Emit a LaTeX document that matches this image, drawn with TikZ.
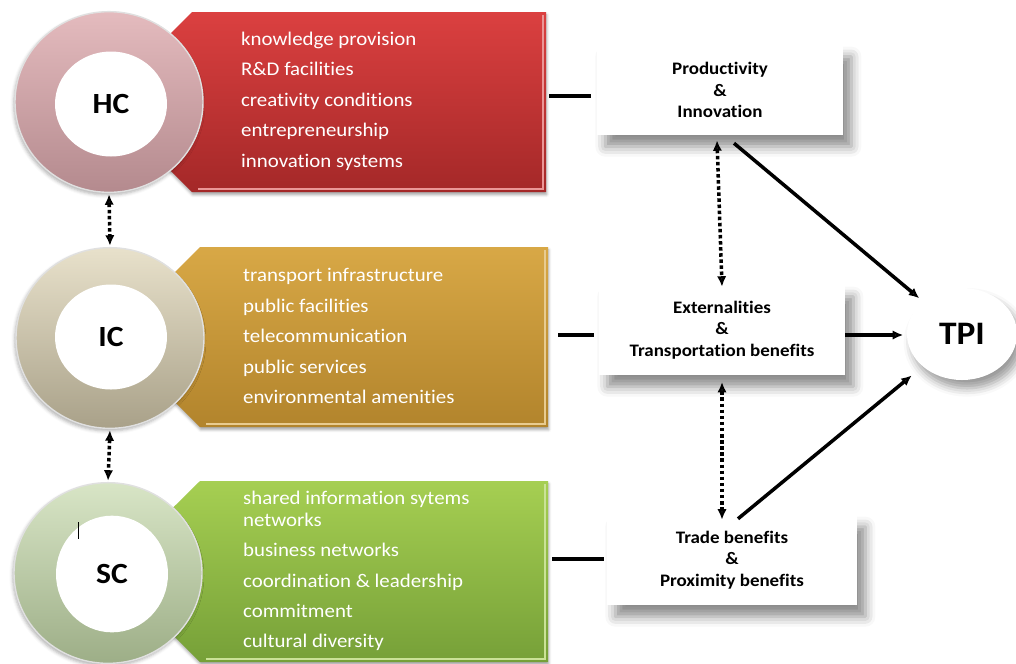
\documentclass[tikz,border=0pt]{standalone}
\usepackage{fontspec}
\setmainfont{Carlito}[FakeStretch=1.08,Ligatures=NoCommon]
\usetikzlibrary{shapes.geometric,arrows.meta,shadows.blur}

\definecolor{hcringA}{HTML}{E4BBBE}
\definecolor{hcringB}{HTML}{B48A8E}
\definecolor{icringA}{HTML}{E8E1CB}
\definecolor{icringB}{HTML}{A9A189}
\definecolor{scringA}{HTML}{D8E5C6}
\definecolor{scringB}{HTML}{9DAE87}
\definecolor{hcboxA}{HTML}{DB4040}
\definecolor{hcboxB}{HTML}{A42828}
\definecolor{icboxA}{HTML}{D8A846}
\definecolor{icboxB}{HTML}{B2842C}
\definecolor{scboxA}{HTML}{A6CF52}
\definecolor{scboxB}{HTML}{76A038}

\begin{document}
\begin{tikzpicture}[x=0.03cm,y=-0.03cm,
  >={Latex[length=9pt,width=8pt]},
  ring/.style={ellipse,minimum width=5.64cm,minimum height=5.42cm,inner sep=0pt,
    draw=white!88!black,line width=1.2pt,
    blur shadow={shadow xshift=-0.04cm,shadow yshift=-0.08cm,shadow blur radius=0.1cm,shadow opacity=30}},
  hole/.style={ellipse,fill=white,minimum width=3.36cm,minimum height=3.15cm,inner sep=0pt,
    font=\fontsize{25}{28}\selectfont\bfseries},
  items/.style={anchor=west,align=left,text=white,font=\fontsize{16.5}{26}\selectfont},
  listbox/.style={blur shadow={shadow xshift=0.02cm,shadow yshift=-0.08cm,shadow blur radius=0.08cm,shadow opacity=35}},
  bevel/.style={line width=1.6pt},
  effect/.style={fill=white,minimum width=7.38cm,minimum height=2.7cm,inner sep=0pt,align=center,
    font=\fontsize{15}{18.5}\selectfont\bfseries,
    blur shadow={shadow xshift=0.25cm,shadow yshift=-0.35cm,shadow blur radius=0.3cm,shadow opacity=45}},
  link/.style={line width=3pt},
  dotlink/.style={<->,line width=3pt,dash pattern=on 3pt off 2.2pt}]

\useasboundingbox (0,0) rectangle (1016,663);

% coloured boxes
\shade[listbox,top color=hcboxA,bottom color=hcboxB] (192,12) -- (546,12) -- (546,192) -- (192,192) -- (102,102) -- cycle;
\draw[bevel,hcboxA!55!white] (198,189) -- (543,189) -- (543,15);
\shade[listbox,top color=icboxA,bottom color=icboxB] (200,247) -- (548,247) -- (548,427) -- (200,427) -- (110,337) -- cycle;
\draw[bevel,icboxA!60!white] (206,424) -- (545,424) -- (545,250);
\shade[listbox,top color=scboxA,bottom color=scboxB] (200,481) -- (548,481) -- (548,662) -- (200,662) -- (109,571) -- cycle;
\draw[bevel,scboxA!60!white] (206,659) -- (545,659) -- (545,484);

% rings
\node[ring,top color=hcringA,bottom color=hcringB] (hcring) at (109,102) {};
\node[hole] (hc) at (111,104) {HC};
\node[ring,top color=icringA,bottom color=icringB] (icring) at (110,338) {};
\node[hole] (ic) at (111,337) {IC};
\node[ring,top color=scringA,bottom color=scringB] (scring) at (108,573) {};
\node[hole,minimum height=3.5cm] (sc) at (112,574) {SC};
\draw[line width=0.8pt] (78,522) -- (78,539);

\draw[dotlink,shorten <=1pt,shorten >=1pt] (hcring.south) -- (icring.north);
\draw[dotlink,shorten <=1pt,shorten >=1pt] (icring.south) -- (scring.north);

% lists
\node[items] (hclist) at (237,101) {knowledge provision\\R\&D facilities\\creativity conditions\\entrepreneurship\\innovation systems};
\node[items] (iclist) at (239,336) {transport infrastructure\\public facilities\\telecommunication\\public services\\environmental amenities};
\node[items] (sclist) at (239,571) {shared information sytems\\[-7.5pt]networks\\business networks\\coordination \& leadership\\commitment\\cultural diversity};

\coordinate (hcend) at (549,96);
\coordinate (icend) at (558,335);
\coordinate (scend) at (552,559);

% effects
\node[effect] (prod) at (720,90) {Productivity\\\&\\Innovation};
\node[effect] (ext) at (722,330) {Externalities\\\&\\Transportation benefits};
\node[effect,minimum width=7.5cm] (trade) at (732,560) {Trade benefits\\\&\\Proximity benefits};
\node[ellipse,fill=white,minimum width=3.3cm,minimum height=2.76cm,inner sep=0pt,
  font=\fontsize{28}{32}\selectfont\bfseries,
  blur shadow={shadow xshift=0.15cm,shadow yshift=-0.25cm,shadow blur radius=0.25cm,shadow opacity=40}] (tpi) at (962,334) {TPI};

% connectors
\draw[link,shorten >=5pt] (hcend) -- (prod.west |- hcend);
\draw[link,shorten >=4pt] (icend) -- (ext.west |- icend);
\draw[link,shorten >=2pt] (scend) -- (trade.west |- scend);

\draw[dotlink] ([xshift=-0.09cm,yshift=-0.15cm]prod.south) -- ([yshift=-0.06cm]ext.north);
\draw[dotlink] ([yshift=-0.2cm]ext.south) -- ([yshift=-0.15cm]ext.south |- trade.north);

\coordinate (prodout) at ([xshift=0.42cm,yshift=-0.24cm]prod.south);
\coordinate (extout) at ([yshift=-0.15cm]ext.east);
\coordinate (tradeout) at ([xshift=0.18cm,yshift=-0.12cm]trade.north);
\draw[link,->,shorten >=4pt] (prodout) -- (tpi);
\draw[link,->,shorten >=3pt] (extout) -- (extout -| tpi.west);
\draw[link,->,shorten >=12pt] (tradeout) -- (tpi);
\end{tikzpicture}
\end{document}
